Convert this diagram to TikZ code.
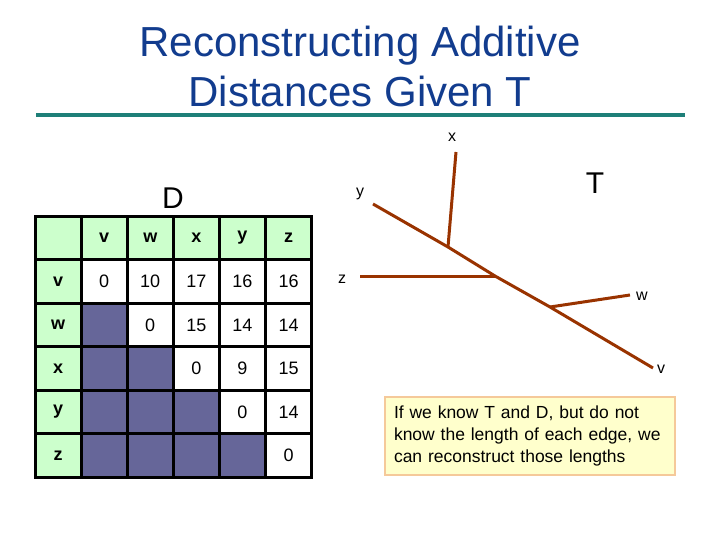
\documentclass[tikz,border=0pt]{standalone}
\usepackage{fontspec}
\setmainfont{Liberation Sans}
\setsansfont{Liberation Sans}
\usepackage{xcolor}
\definecolor{navy}{HTML}{123C8E}
\definecolor{ruleteal}{HTML}{1E7F78}
\definecolor{mint}{HTML}{CCFFCC}
\definecolor{dusk}{HTML}{666699}
\definecolor{bark}{HTML}{993300}
\definecolor{cream}{HTML}{FFFFCC}
\definecolor{tan}{HTML}{F5C99A}
\usetikzlibrary{positioning,calc}
\tikzset{
  ttl/.style={font=\fontsize{42}{46}\selectfont,text=navy,anchor=base,inner sep=0pt},
  big/.style={font=\fontsize{30}{33}\selectfont,inner sep=0pt},
  cell/.style={draw=black,line width=3pt,minimum width=46.1pt,minimum height=43.55pt,
               inner sep=0pt,font=\fontsize{18}{20}\selectfont},
  hdr/.style={cell,fill=mint,font=\fontsize{18}{20}\selectfont\bfseries},
  num/.style={cell,fill=white},
  blank/.style={cell,fill=dusk},
  edge/.style={draw=bark,line width=3pt},
  leaf/.style={font=\fontsize{16}{18}\selectfont,inner sep=0pt},
  note/.style={draw=tan,line width=2.5pt,fill=cream,align=left,text width=272pt,
               inner xsep=9pt,minimum height=78pt,font=\fontsize{17.5}{22}\selectfont},
}
\begin{document}
\begin{tikzpicture}[x=1pt,y=-1pt]
  \useasboundingbox (0,0) rectangle (720,540);

  % title
  \node[ttl] (ttl1) at (360,57) {Reconstructing Additive};
  \node[ttl] (ttl2) at (360,107) {Distances Given T};
  \draw[ruleteal,line width=4pt] (36,115) -- (685,115);

  % distance matrix D
  \node[big] (dlab) at (173,198) {D};
  \node[hdr] (c00) at (58.05,237.8) {};
  \foreach \lab [count=\i] in {v,w,x,y,z} {
    \node[hdr] (c0\i) at ({58.05+46.1*\i},237.8) {\lab};
    \node[hdr] (c\i0) at (58.05,{237.8+43.55*\i}) {\lab};
  }
  \foreach \r/\vals in {1/{num/0,num/10,num/17,num/16,num/16},
                        2/{blank/,num/0,num/15,num/14,num/14},
                        3/{blank/,blank/,num/0,num/9,num/15},
                        4/{blank/,blank/,blank/,num/0,num/14},
                        5/{blank/,blank/,blank/,blank/,num/0}} {
    \foreach \s/\v [count=\c] in \vals
      \node[\s] (c\r\c) at ({58.05+46.1*\c},{237.8+43.55*\r}) {\v};
  }

  % tree T
  \node[big] (tlab) at (595,183) {T};
  \coordinate (ty) at (373,204);
  \coordinate (jx) at (448,247);
  \coordinate (tx) at (456,152);
  \coordinate (jz) at (495,276);
  \coordinate (tz) at (360,276);
  \coordinate (jw) at (550,307);
  \coordinate (tw) at (630,295);
  \coordinate (tv) at (653,368);
  \draw[edge] (ty) -- (jx) -- (jz) -- (jw) -- (tv);
  \draw[edge] (jx) -- (tx);
  \draw[edge] (jz) -- (tz);
  \draw[edge] (jw) -- (tw);
  \node[leaf] (lx) at (452,137) {x};
  \node[leaf] (ly) at (360,194) {y};
  \node[leaf] (lz) at (342,279) {z};
  \node[leaf] (lw) at (642,296) {w};
  \node[leaf] (lv) at (661,369) {v};

  \node[note] (msg) at (530,436) {If we know T and D, but do not\\know the length of each edge, we\\can reconstruct those lengths};
\end{tikzpicture}
\end{document}
